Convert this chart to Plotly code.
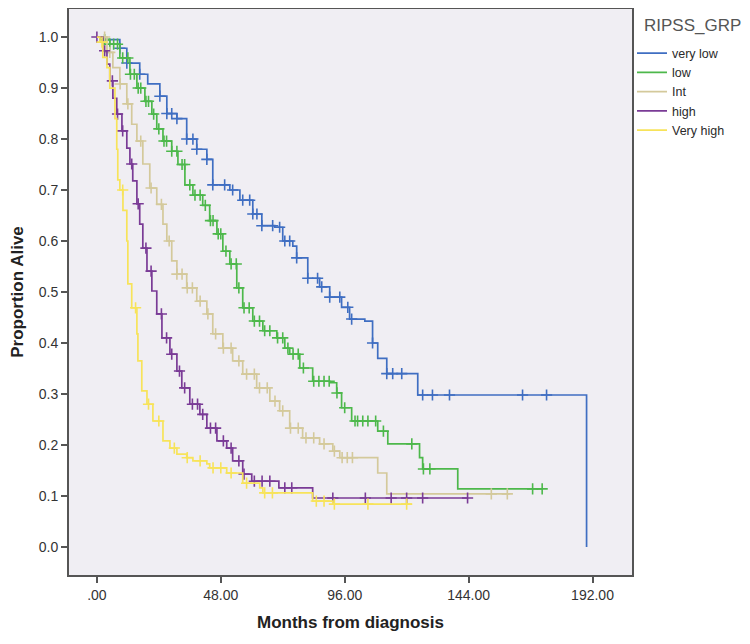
import numpy as np
import plotly.graph_objects as go

# ---- data (months, proportion alive) ----
groups = ["very low", "low", "Int", "high", "Very high"]
colors = ["#3F6EC2", "#4DB84B", "#D4C99B", "#7A3B96", "#F7E35A"]
legend_title = "RIPSS_GRP"

vl_t = [0, 1.2, 8.9, 11.6, 16.6, 19.7, 24.4, 27.1, 31.0, 34.8, 38.7, 42.6, 44.9, 51.5, 55.4, 60.4,
        63.9, 68.9, 72.0, 75.9, 77.4, 81.7, 86.3, 90.2, 94.8, 97.9, 103.8, 106.8, 108.8, 112.3, 124.3, 189.7]
vl_s = [1.0, 0.995, 0.978, 0.949, 0.927, 0.908, 0.884, 0.85, 0.84, 0.80, 0.78, 0.76, 0.71, 0.70, 0.68, 0.653,
        0.63, 0.627, 0.60, 0.59, 0.567, 0.527, 0.51, 0.49, 0.47, 0.447, 0.443, 0.40, 0.37, 0.34, 0.298, 0.0]
vl_c = [8.9, 11.6, 16.6, 24.4, 27.1, 29, 31, 34.8, 37.2, 38.7, 42.6, 44.9, 49.5, 52.6, 56.5, 59.2, 60.4, 62,
        63.9, 68.1, 70.8, 72.8, 74.7, 77.4, 81.7, 85.5, 87.1, 90.2, 94.1, 97.2, 98.7, 106.8, 112.3, 114.6,
        118.1, 126.2, 130.0, 136.6, 164.9, 174.2]

lo_t = [0, 2.3, 5.0, 8.9, 12.8, 15.5, 18.6, 21.3, 23.2, 25.6, 29.0, 31.4, 34.1, 37.2, 41.0, 43.7, 46.5, 48.8,
        51.5, 54.2, 56.5, 60.4, 64.3, 69.7, 72.8, 74.7, 78.6, 83.6, 90.2, 92.9, 94.8, 98.7, 108.8, 112.7,
        125.0, 126.2, 139.8, 172.7]
lo_s = [1.0, 0.995, 0.986, 0.959, 0.927, 0.90, 0.874, 0.849, 0.82, 0.796, 0.776, 0.75, 0.71, 0.69, 0.67, 0.64,
        0.614, 0.58, 0.555, 0.508, 0.469, 0.443, 0.424, 0.41, 0.39, 0.378, 0.351, 0.325, 0.322, 0.302, 0.273,
        0.247, 0.227, 0.202, 0.175, 0.153, 0.114, 0.114]
lo_c = [3, 5, 6.5, 8, 10, 12, 13, 14.5, 16, 17, 19, 20, 22, 24, 26, 27, 29, 31, 33, 34, 36, 38, 40, 42, 44,
        45, 47, 48, 50, 52, 54, 55, 57, 59, 61, 63, 65, 67, 70, 72, 74, 76, 78, 80, 84, 86, 88, 90, 93, 96,
        100, 101, 103, 105, 108, 111, 122, 126.5, 129, 168.8, 172.5]

in_t = [0, 3.9, 6.2, 8.9, 11.6, 13.5, 15.5, 17.8, 20.5, 23.2, 25.6, 27.1, 29.0, 31.0, 34.8, 38.7, 42.6, 44.9,
        48.8, 52.6, 56.5, 61.9, 67.0, 70.8, 74.7, 79.7, 86.3, 91.4, 94.1, 108.8, 112.3, 159.9]
in_s = [1.0, 0.97, 0.94, 0.908, 0.869, 0.829, 0.796, 0.751, 0.704, 0.672, 0.633, 0.60, 0.561, 0.535, 0.508,
        0.482, 0.457, 0.418, 0.39, 0.365, 0.339, 0.312, 0.286, 0.267, 0.233, 0.214, 0.202, 0.188, 0.175,
        0.145, 0.104, 0.104]
in_c = [3, 5, 9, 12, 17, 21, 25, 28, 31, 33, 35, 37, 40, 43, 46, 49, 52, 55, 58, 61, 63, 66, 69, 72, 75, 78,
        81, 84, 88, 92, 95, 97, 99, 152.8, 159]

hi_t = [0, 2.3, 3.9, 5.0, 6.2, 7.7, 9.7, 11.6, 12.8, 13.9, 15.5, 16.6, 17.8, 19.4, 21.3, 23.2, 25.2, 28.3,
        31.0, 32.9, 36.0, 39.9, 42.6, 46.5, 50.3, 52.6, 56.5, 60.0, 70.5, 83.6, 143.6]
hi_s = [1.0, 0.973, 0.947, 0.914, 0.88, 0.849, 0.816, 0.782, 0.751, 0.718, 0.673, 0.633, 0.586, 0.541, 0.502,
        0.457, 0.41, 0.378, 0.345, 0.312, 0.28, 0.26, 0.233, 0.208, 0.194, 0.169, 0.143, 0.129, 0.116, 0.096,
        0.096]
hi_c = [0, 3, 6, 8, 10, 13.5, 16, 19, 21, 25, 27, 29, 32, 34, 37, 39, 41, 44, 46, 49, 52, 55, 57, 61, 64,
        67, 72.8, 75.5, 91.4, 104, 114, 120, 126.2, 143.6]

vh_t = [0, 1.2, 2.3, 3.9, 5.0, 7.0, 7.7, 8.1, 8.9, 10.1, 11.6, 12.0, 13.5, 15.5, 15.9, 17.4, 19.4, 21.7,
        25.6, 28.3, 31.0, 34.8, 37.2, 42.6, 43.7, 50.3, 56.5, 63.1, 64.3, 83.6, 91.4, 122.0]
vh_s = [1.0, 0.99, 0.96, 0.94, 0.90, 0.84, 0.78, 0.72, 0.70, 0.66, 0.60, 0.516, 0.469, 0.418, 0.365, 0.306,
        0.28, 0.247, 0.208, 0.194, 0.182, 0.175, 0.169, 0.163, 0.155, 0.145, 0.125, 0.116, 0.106, 0.09, 0.084,
        0.084]
vh_c = [2, 10, 15, 20, 24, 30, 35, 40, 45, 48, 52, 58, 65, 68, 85, 88, 92, 105, 120]

series = [(vl_t, vl_s, vl_c), (lo_t, lo_s, lo_c), (in_t, in_s, in_c), (hi_t, hi_s, hi_c), (vh_t, vh_s, vh_c)]

x_ticks = [0, 48, 96, 144, 192]
x_tick_text = [".00", "48.00", "96.00", "144.00", "192.00"]
y_ticks = [0.0, 0.1, 0.2, 0.3, 0.4, 0.5, 0.6, 0.7, 0.8, 0.9, 1.0]

fig = go.Figure()
for name, col, (t, s, c) in zip(groups, colors, series):
    t = np.array(t, float)
    s = np.array(s, float)
    c = np.array(c, float)
    fig.add_trace(go.Scatter(x=t, y=s, mode="lines", line=dict(shape="hv", color=col, width=1.7),
                             name=name, legendgroup=name))
    idx = np.clip(np.searchsorted(t, c, side="right") - 1, 0, len(s) - 1)
    fig.add_trace(go.Scatter(x=c, y=s[idx], mode="markers", showlegend=False, legendgroup=name,
                             marker=dict(symbol="cross-thin", size=8, color=col,
                                         line=dict(color=col, width=1.6)),
                             hoverinfo="skip"))

font = "Liberation Sans, Arial, sans-serif"
fig.update_layout(
    width=742, height=637,
    margin=dict(l=61, r=118, t=1, b=70, autoexpand=False),
    paper_bgcolor="white",
    plot_bgcolor="#F0EEF3",
    font=dict(family=font, color="#333333", size=14),
    showlegend=True,
    legend=dict(
        x=1.0, xanchor="left", y=0.948, yanchor="top",
        font=dict(size=12.5, color="#2A2A2A"),
        tracegroupgap=0, itemwidth=30, bgcolor="rgba(0,0,0,0)",
    ),
    annotations=[dict(text=legend_title, xref="paper", yref="paper", x=1.018, y=0.97,
                      xanchor="left", yanchor="middle", showarrow=False,
                      font=dict(size=17, color="#555555"))],
    xaxis=dict(
        range=[-10.8, 207.3], tickmode="array", tickvals=x_ticks, ticktext=x_tick_text,
        showgrid=False, zeroline=False, showline=True, mirror=True, linecolor="#555555", linewidth=2,
        ticks="outside", ticklen=6, tickwidth=2, tickcolor="#555555", automargin=False,
        tickfont=dict(size=14, color="#333333"),
        title=dict(text="<b>Months from diagnosis</b>", font=dict(size=17, color="#222222"), standoff=14),
    ),
    yaxis=dict(
        range=[-0.055, 1.055], tickmode="array", tickvals=y_ticks, tickformat=".1f",
        showgrid=False, zeroline=False, showline=True, mirror=True, linecolor="#555555", linewidth=2,
        ticks="outside", ticklen=6, tickwidth=2, tickcolor="#555555", automargin=False,
        tickfont=dict(size=14, color="#333333"),
        title=dict(text="<b>Proportion Alive</b>", font=dict(size=17, color="#222222"), standoff=12),
    ),
)

fig.write_html("out.html")
